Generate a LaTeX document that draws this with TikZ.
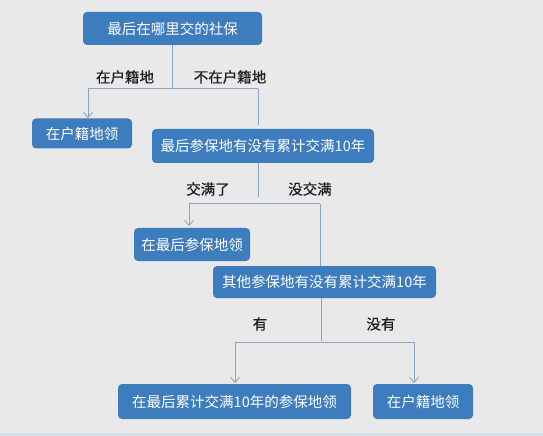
\documentclass[tikz,border=0pt]{standalone}
\usepackage{fontspec}
\setmainfont{Noto Sans CJK SC}
\newfontfamily\labfont[FakeBold=0.6]{Noto Sans CJK SC}
\usetikzlibrary{arrows.meta}
\definecolor{bg}{HTML}{E9E9E9}
\definecolor{boxblue}{HTML}{3D7DBD}
\definecolor{linec}{HTML}{8AA5C5}
\definecolor{band}{HTML}{D9DFE6}
\definecolor{labc}{HTML}{1E1E1E}
\begin{document}
\begin{tikzpicture}[x=1bp,y=-1bp,
  box/.style={draw=none,fill=boxblue,rounded corners=4bp,text=white,inner sep=0pt,
    font=\fontsize{14.5bp}{17bp}\selectfont,anchor=center},
  lab/.style={text=labc,inner sep=0pt,font=\labfont\fontsize{14.5bp}{17bp}\selectfont},
  conn/.style={draw=linec,line width=1bp},
  arr/.style={conn,-{Straight Barb[length=5bp,width=9bp,line width=0.9bp]}}]
\useasboundingbox (0,0) rectangle (543,436);
\fill[bg] (0,0) rectangle (543,436);
\fill[band] (0,433) rectangle (543,436);
% boxes
\node[box,minimum width=179bp,minimum height=33bp] (b1) at (172.5,28.5) {最后在哪里交的社保};
\node[box,minimum width=100bp,minimum height=30bp] (b2) at (82,133.5) {在户籍地领};
\node[box,minimum width=222bp,minimum height=34bp] (b3) at (263,146) {最后参保地有没有累计交满10年};
\node[box,minimum width=116bp,minimum height=33bp] (b4) at (192,244.5) {在最后参保地领};
\node[box,minimum width=223bp,minimum height=32bp] (b5) at (324.5,282) {其他参保地有没有累计交满10年};
\node[box,minimum width=233bp,minimum height=35bp] (b6) at (234.5,401.5) {在最后累计交满10年的参保地领};
\node[box,minimum width=100bp,minimum height=35bp] (b7) at (423,401.5) {在户籍地领};
% labels
\node[lab] (l1) at (125,77) {在户籍地};
\node[lab] (l2) at (230,77) {不在户籍地};
\node[lab] (l3) at (208,189) {交满了};
\node[lab] (l4) at (310,189) {没交满};
\node[lab] (l5) at (260,324) {有};
\node[lab] (l6) at (381,324) {没有};
% junction coordinates
\coordinate (s1) at (172,45);
\coordinate (j1) at (172,89);
\coordinate (h1l) at (88,89);
\coordinate (h1r) at (258,89);
\coordinate (a2) at (88,118);
\coordinate (e3) at (258,125);
\coordinate (s3) at (258,163);
\coordinate (j3) at (258,197);
\coordinate (h3l) at (189,204);
\coordinate (h3r) at (320,204);
\coordinate (a4) at (189,226);
\coordinate (e5) at (320,266);
\coordinate (s5) at (321,298);
\coordinate (j5) at (321,341);
\coordinate (h5l) at (235,342);
\coordinate (h5r) at (414,342);
\coordinate (a6) at (235,383);
\coordinate (a7) at (414,383);
% connectors
\draw[conn] (s1) -- (j1);
\draw[conn] (h1l) -- (h1r);
\draw[arr] (h1l) -- (a2);
\draw[conn] (h1r) -- (e3);
\draw[conn] (s3) -- (j3);
\draw[conn] (h3l) -- (h3r);
\draw[arr] (h3l) -- (a4);
\draw[conn] (h3r) -- (e5);
\draw[conn] (s5) -- (j5);
\draw[conn] (h5l) -- (h5r);
\draw[arr] (h5l) -- (a6);
\draw[arr] (h5r) -- (a7);
\end{tikzpicture}
\end{document}
